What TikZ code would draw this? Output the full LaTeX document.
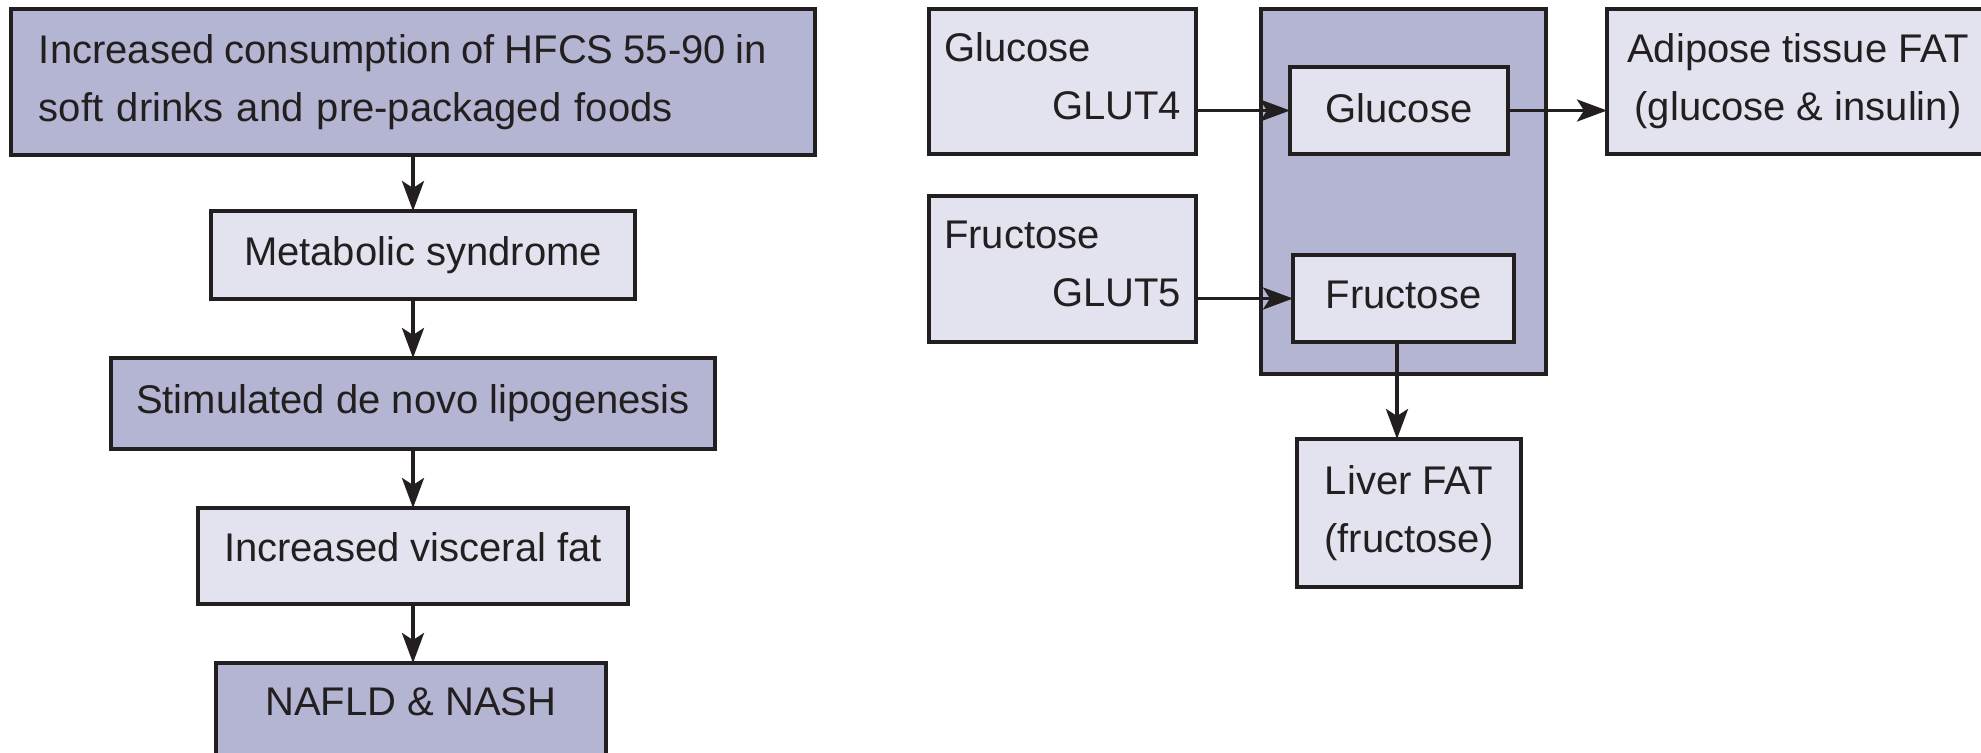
\documentclass[tikz,border=0pt]{standalone}
\usepackage{fontspec}
\setmainfont{Liberation Sans}
\usetikzlibrary{arrows.meta}
\definecolor{boxdark}{RGB}{179,181,210}
\definecolor{boxlight}{RGB}{226,227,238}
\definecolor{ink}{RGB}{35,31,32}
\begin{document}
\begin{tikzpicture}[x=0.5pt,y=-0.5pt,
  every node/.style={font=\fontsize{20}{29}\selectfont, text=ink},
  base/.style={draw=ink, line width=2pt, inner sep=0pt, outer sep=0pt},
  dark/.style={base, fill=boxdark},
  light/.style={base, fill=boxlight},
  arr/.style={draw=ink, line width=1.8pt, -{Stealth[length=15pt,width=11pt,inset=3.5pt]}}
]
\useasboundingbox (0,0) rectangle (1981,752);
% left column
\node[dark, minimum width=402pt, minimum height=73pt, inner xsep=14pt, text width=374pt, align=left] (top) at (413,82)
  {{\spaceskip=0.9\fontdimen2\font plus 0.2\fontdimen3\font\relax Increased consumption of HFCS 55-90 in}\\soft drinks and pre-packaged foods};
\node[light, minimum width=212pt, minimum height=44pt] (met) at (423,255) {Metabolic syndrome};
\node[dark, minimum width=302pt, minimum height=45.5pt] (lip) at (413,403.5) {Stimulated de novo lipogenesis};
\node[light, anchor=north, minimum width=215pt, text height=26.7pt, text depth=21.3pt] (vis) at (413,508) {Increased visceral fat};
\node[dark, anchor=north, minimum width=195pt, text height=26pt, text depth=50pt] (naf) at (411,663) {NAFLD \& NASH};
% right part
\node[light, minimum width=133.5pt, minimum height=72.5pt, inner xsep=7.5pt, text width=118.5pt, align=left] (gout) at (1062.5,81.5)
  {Glucose\\\hspace*{\fill}GLUT4\par\vspace{5pt}};
\node[light, minimum width=133.5pt, minimum height=73pt, inner xsep=7.5pt, text width=118.5pt, align=left] (fout) at (1062.5,269)
  {Fructose\\\hspace*{\fill}GLUT5\par\vspace{5pt}};
\node[dark, minimum width=142.5pt, minimum height=182.5pt] (cont) at (1403.5,191.5) {};
\node[light, minimum width=109pt, minimum height=43.5pt, text depth=2.2pt] (ig) at (1399,110.5) {Glucose};
\node[light, minimum width=110.5pt, minimum height=43.5pt, text depth=4.2pt] (ifr) at (1403.5,298.5) {Fructose};
\node[light, minimum width=191pt, minimum height=72.5pt, align=center] (adi) at (1798,81.5)
  {Adipose tissue FAT\\(glucose \& insulin)};
\node[light, minimum width=112pt, minimum height=74pt, align=center] (liv) at (1409,513)
  {Liver FAT\\(fructose)};
\coordinate (drop) at ([xshift=-3.25pt]ifr.south);
% connectors
\draw[arr] (top.south) -- (top.south |- met.north);
\draw[arr] (top.south |- met.south) -- (top.south |- lip.north);
\draw[arr] (lip.south) -- (lip.south |- vis.north);
\draw[arr] (lip.south |- vis.south) -- (lip.south |- naf.north);
\draw[arr] (gout.east |- ig.west) -- (ig.west);
\draw[arr] (fout.east |- ifr.west) -- (ifr.west);
\draw[arr] (ig.east) -- (ig.east -| adi.west);
\draw[arr] (drop) -- (drop |- liv.north);
\end{tikzpicture}
\end{document}
